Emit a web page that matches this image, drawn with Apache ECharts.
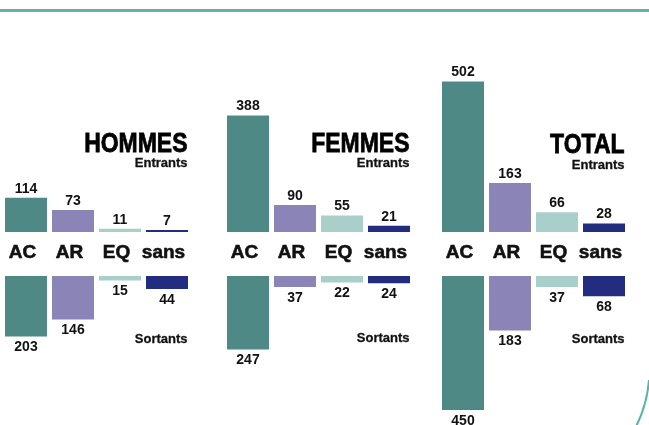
<!DOCTYPE html>
<html>
<head>
<meta charset="utf-8">
<script src="https://cdn.jsdelivr.net/npm/echarts@6/dist/echarts.min.js"></script>
<style>
  html, body { margin: 0; padding: 0; background: #fff; }
  #chart { width: 649px; height: 425px; }
</style>
</head>
<body>
<div id="chart"></div>
<script>
var categories = ['AC', 'AR', 'EQ', 'sans'];
var colors = ['#4e8985', '#8b84b6', '#a9cfcb', '#232d80'];

var panelTitles = ['HOMMES', 'FEMMES', 'TOTAL'];
var hommesEntrants = [114, 73, 11, 7];
var hommesSortants = [203, 146, 15, 44];
var femmesEntrants = [388, 90, 55, 21];
var femmesSortants = [247, 37, 22, 24];
var totalEntrants = [502, 163, 66, 28];
var totalSortants = [450, 183, 37, 68];

var entrants = [hommesEntrants, femmesEntrants, totalEntrants];
var sortants = [hommesSortants, femmesSortants, totalSortants];

var FONT = '"Liberation Sans", Arial, sans-serif';
var panelLeft = [2.5, 224.5, 439.5];
var panelWidth = 188;
var titleY = [144, 144, 145];
var subY = [163, 163, 165];
var sortY = [339, 338, 339];

var grids = [], xAxes = [], yAxes = [], series = [], graphics = [];

panelLeft.forEach(function (left, p) {
  // top grid : entrants
  grids.push({ left: left, top: 67, width: panelWidth, height: 165 });
  // bottom grid : sortants (inverted axis)
  grids.push({ left: left, top: 276, width: panelWidth, height: 150 });

  xAxes.push({
    type: 'category', gridIndex: 2 * p, data: categories,
    axisLine: { show: false }, axisTick: { show: false },
    axisLabel: {
      show: true, interval: 0, margin: 11, padding: [0, 7, 0, 0],
      fontFamily: FONT, fontWeight: 'bold', fontSize: 19, color: '#111',
      textBorderColor: '#111', textBorderWidth: 0.6
    }
  });
  xAxes.push({
    type: 'category', gridIndex: 2 * p + 1, data: categories, position: 'top',
    axisLine: { show: false }, axisTick: { show: false }, axisLabel: { show: false }
  });
  yAxes.push({ type: 'value', gridIndex: 2 * p, min: 0, max: 550, show: false, splitLine: { show: false } });
  yAxes.push({ type: 'value', gridIndex: 2 * p + 1, min: 0, max: 500, inverse: true, show: false, splitLine: { show: false } });

  series.push({
    type: 'bar', xAxisIndex: 2 * p, yAxisIndex: 2 * p, barWidth: 42,
    data: entrants[p].map(function (v, i) { return { value: v, itemStyle: { color: colors[i] } }; }),
    label: { show: true, position: 'top', distance: 2, fontFamily: FONT, fontWeight: 'bold', fontSize: 14, color: '#111' }
  });
  series.push({
    type: 'bar', xAxisIndex: 2 * p + 1, yAxisIndex: 2 * p + 1, barWidth: 42,
    data: sortants[p].map(function (v, i) { return { value: v, itemStyle: { color: colors[i] } }; }),
    label: { show: true, position: 'bottom', distance: 4, fontFamily: FONT, fontWeight: 'bold', fontSize: 14, color: '#111' }
  });

  var right = left + panelWidth - 3;
  graphics.push({ type: 'text', x: right, y: titleY[p], scaleX: 0.82, style: { text: panelTitles[p], align: 'right', verticalAlign: 'middle', font: 'bold 28px ' + FONT, fill: '#000', stroke: '#000', lineWidth: 0.8 } });
  graphics.push({ type: 'text', x: right, y: subY[p], style: { text: 'Entrants', align: 'right', verticalAlign: 'middle', font: 'bold 13px ' + FONT, fill: '#111', stroke: '#111', lineWidth: 0.3 } });
  graphics.push({ type: 'text', x: right, y: sortY[p], style: { text: 'Sortants', align: 'right', verticalAlign: 'middle', font: 'bold 13px ' + FONT, fill: '#111', stroke: '#111', lineWidth: 0.3 } });
});

// decorative top rule and corner arc
graphics.push({ type: 'line', shape: { x1: 0, y1: 10.5, x2: 649, y2: 10.5 }, style: { stroke: '#67b1ab', lineWidth: 3 } });
graphics.push({ type: 'arc', shape: { cx: 523, cy: 370, r: 126.4, startAngle: 0.08, endAngle: 0.9 }, style: { stroke: '#5fb0aa', lineWidth: 2, fill: null } });

var chart = echarts.init(document.getElementById('chart'));
chart.setOption({
  animation: false,
  grid: grids,
  xAxis: xAxes,
  yAxis: yAxes,
  series: series,
  graphic: graphics
});
</script>
</body>
</html>
